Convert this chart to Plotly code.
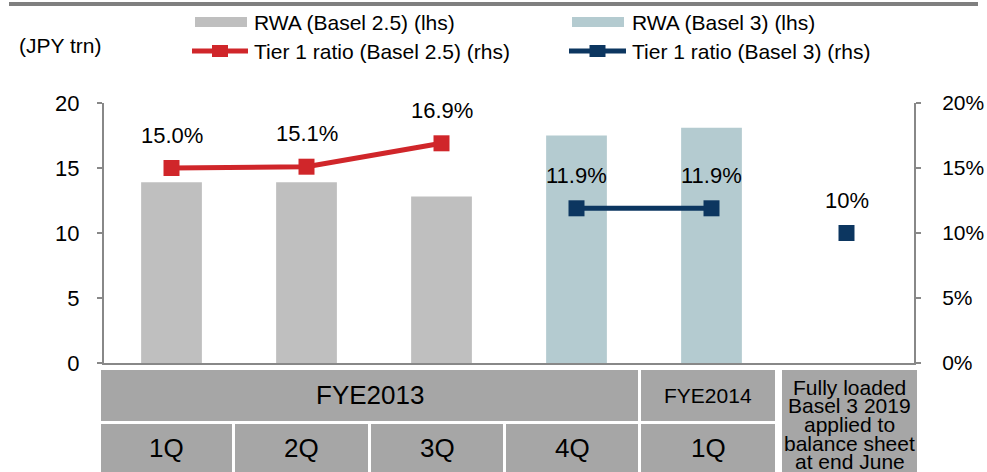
import plotly.graph_objects as go

# ---- data -------------------------------------------------------------
x_pos = [0, 1, 2, 3, 4, 5]
quarters = ["1Q", "2Q", "3Q", "4Q", "1Q"]
years = ["FYE2013", "FYE2014"]
last_col = ["Fully loaded", "Basel 3 2019", "applied to", "balance sheet", "at end June"]

rwa_b25_x = [0, 1, 2]
rwa_b25 = [13.9, 13.9, 12.8]
rwa_b3_x = [3, 4]
rwa_b3 = [17.5, 18.1]

t1_b25_x = [0, 1, 2]
t1_b25 = [0.150, 0.151, 0.169]
t1_b3_x = [3, 4]
t1_b3 = [0.119, 0.119]
t1_full_x = [5]
t1_full = [0.10]
t1_labels = ["15.0%", "15.1%", "16.9%", "11.9%", "11.9%", "10%"]

legend_items = ["RWA (Basel 2.5) (lhs)", "Tier 1 ratio (Basel 2.5) (rhs)",
                "RWA (Basel 3) (lhs)", "Tier 1 ratio (Basel 3) (rhs)"]

GREY = "#bfbfbf"
LBLUE = "#b4cbd0"
RED = "#d0262a"
NAVY = "#0c3660"
CELL = "#a6a6a6"
AXIS = "#888888"
FONT = "Liberation Sans, Arial, sans-serif"

# plot area in pixels
W_, H_ = 987, 472
L, R, T, B = 104, 914, 103, 363


def px(x):
    return (x - L) / (R - L)


def py(y):
    return (B - y) / (B - T)


fig = go.Figure()

fig.add_trace(go.Bar(x=rwa_b25_x, y=rwa_b25, width=0.45, marker=dict(color=GREY, line_width=0),
                     name=legend_items[0]))
fig.add_trace(go.Bar(x=rwa_b3_x, y=rwa_b3, width=0.45, marker=dict(color=LBLUE, line_width=0),
                     name=legend_items[2]))
fig.add_trace(go.Scatter(x=t1_b25_x, y=t1_b25, yaxis="y2", mode="lines+markers",
                         line=dict(color=RED, width=5),
                         marker=dict(symbol="square", size=16, color=RED), name=legend_items[1]))
fig.add_trace(go.Scatter(x=t1_b3_x, y=t1_b3, yaxis="y2", mode="lines+markers",
                         line=dict(color=NAVY, width=5),
                         marker=dict(symbol="square", size=16, color=NAVY), name=legend_items[3]))
fig.add_trace(go.Scatter(x=t1_full_x, y=t1_full, yaxis="y2", mode="markers",
                         marker=dict(symbol="square", size=16, color=NAVY), showlegend=False))

annotations = []
shapes = []


def note(x, y, text, size, anchor="center"):
    annotations.append(dict(x=px(x), y=py(y), xref="paper", yref="paper", text=text,
                            showarrow=False, xanchor=anchor, yanchor="middle",
                            font=dict(size=size, color="black")))


# value labels above the ratio markers
for xv, yv, lab in zip(t1_b25_x + t1_b3_x + t1_full_x, t1_b25 + t1_b3 + t1_full, t1_labels):
    annotations.append(dict(x=xv, y=yv, xref="x", yref="y2", text=lab, showarrow=False,
                            xanchor="center", yanchor="middle",
                            yshift=33, font=dict(size=22, color="black")))

# top rule
shapes.append(dict(type="line", xref="paper", yref="paper", x0=px(9), x1=px(978),
                   y0=py(4), y1=py(4), line=dict(color="#7f7f7f", width=4)))

# manual legend
shapes.append(dict(type="rect", xref="paper", yref="paper", x0=px(195), x1=px(247),
                   y0=py(27), y1=py(17), fillcolor=GREY, line_width=0))
shapes.append(dict(type="rect", xref="paper", yref="paper", x0=px(572), x1=px(624),
                   y0=py(27), y1=py(17), fillcolor=LBLUE, line_width=0))
for x0, x1, c in [(192, 248, RED), (569, 626, NAVY)]:
    shapes.append(dict(type="line", xref="paper", yref="paper", x0=px(x0), x1=px(x1),
                       y0=py(51), y1=py(51), line=dict(color=c, width=5)))
    mid = (x0 + x1) / 2
    shapes.append(dict(type="rect", xref="paper", yref="paper", x0=px(mid - 8), x1=px(mid + 8),
                       y0=py(57), y1=py(45), fillcolor=c, line_width=0))
for txt, x, y in [(legend_items[0], 252, 22), (legend_items[1], 252, 51),
                  (legend_items[2], 630, 22), (legend_items[3], 630, 51)]:
    note(x, y, txt, 21, "left")

note(17, 46, "(JPY trn)", 21, "left")

# category table under the plot
row1 = (370, 421)
row2 = (424, 475)
year_cells = [(101, 638), (641, 775)]
q_cells = [(101, 232), (235, 368), (371, 503), (506, 638), (641, 775)]
last_cell = (782, 917)


def cell(x0, x1, y0, y1):
    shapes.append(dict(type="rect", xref="paper", yref="paper", x0=px(x0), x1=px(x1),
                       y0=py(y1), y1=py(y0), fillcolor=CELL, line_width=0, layer="below"))


for (x0, x1), yr, fs in zip(year_cells, years, [26, 21]):
    cell(x0, x1, *row1)
    note((x0 + x1) / 2, 395, yr, fs)
for (x0, x1), q in zip(q_cells, quarters):
    cell(x0, x1, *row2)
    note((x0 + x1) / 2, 448, q, 26)
cell(last_cell[0], last_cell[1], row1[0], row2[1])
for line, yc in zip(last_col, [387, 405, 424, 443, 461]):
    note((last_cell[0] + last_cell[1]) / 2, yc, line, 21)

fig.update_layout(
    width=W_, height=H_, autosize=False,
    margin=dict(l=L, r=W_ - R, t=T, b=H_ - B, pad=0),
    paper_bgcolor="white", plot_bgcolor="white",
    font=dict(family=FONT, color="black"),
    barmode="overlay", showlegend=False,
    xaxis=dict(range=[-0.5, 5.5], showticklabels=False, ticks="", showgrid=False,
               zeroline=False, showline=True, linecolor=AXIS, linewidth=2, automargin=False),
    yaxis=dict(range=[0, 20], dtick=5, showgrid=False, zeroline=False, showline=True,
               linecolor=AXIS, linewidth=2, ticks="outside", ticklen=5, tickcolor=AXIS,
               tickwidth=2, tickfont=dict(size=22), ticklabelstandoff=13, automargin=False),
    yaxis2=dict(range=[0, 0.2], dtick=0.05, tickformat=".0%", overlaying="y", side="right",
                anchor="x", showgrid=False, zeroline=False, showline=True, linecolor=AXIS,
                linewidth=2, ticks="outside", ticklen=5, tickcolor=AXIS, tickwidth=2,
                tickfont=dict(size=21), ticklabelstandoff=17, automargin=False),
    annotations=annotations,
    shapes=shapes,
)

# no body margin / scrollbars so the figure sits exactly in the window
fig.write_html("out.html", config={"displayModeBar": False},
               post_script="document.body.style.margin='0';document.body.style.overflow='hidden';")
